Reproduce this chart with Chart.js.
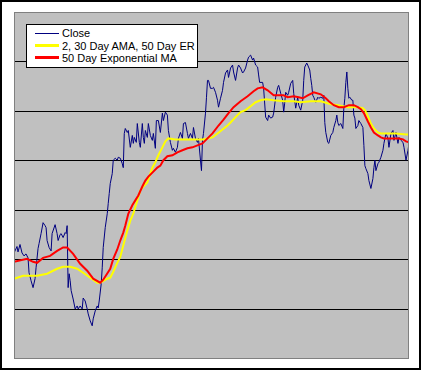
<!DOCTYPE html>
<html lang="en">
<head>
    <meta charset="UTF-8">
    <title>Close vs AMA vs EMA</title>
    <script src="https://cdn.jsdelivr.net/npm/chart.js"></script>
    <style>
        body { margin:0; background:#fff; }
        .wrap { position:relative; width:421px; height:370px; }
        .wrap canvas { position:absolute; left:0; top:0; }
        .frame { position:absolute; left:0; top:0; width:421px; height:370px; box-sizing:border-box; border:2px solid #000; pointer-events:none; }
        .legend { position:absolute; left:26px; top:24px; width:172px; height:44px; box-sizing:border-box;
                  border:1px solid #000; background:#fff; font-family:"Liberation Sans", Arial, sans-serif; font-size:11px; color:#000; }
        .legend .row { position:absolute; left:0; height:12px; line-height:12px; white-space:nowrap; }
        .legend .swatch { position:absolute; left:8px; width:24px; }
        .legend .txt { position:absolute; left:35px; top:0; }
    </style>
</head>
<body>
<div class="wrap">
    <canvas id="myChart" width="421" height="370"></canvas>
    <div class="legend" id="legend"></div>
    <div class="frame"></div>
</div>

<script>
// series names (legend)
const seriesNames = ['Close', '2, 30 Day AMA, 50 Day ER', '50 Day Exponential MA'];

// trading day index for each close reading, and the close
const closeDays = [0,1,3,4,6,8,10,12,14,15,17,19,21,22,24,25,27,29,31,32,33,35,37,38,41,43,44,46,47,49,51,52,53,54,55,56,57,59,61,63,64,66,68,69,71,73,74,76,78,79,81,83,84,85,87,88,89,91,93,94,95,96,98,99,101,103,104,106,108,109,110,111,113,114,116,118,119,120,122,123,125,126,128,129,130,131,133,134,136,138,139,141,142,144,146,148,149,151,153,154,156,158,159,161,163,164,166,168,169,171,173,174,176,178,179,181,183,184,186,187,188,189,191,192,193,194,196,198,199,201,203,204,206,208,209,211,213,214,216,218,219,221,223,224,226,228,229,231,233,234,236,238,239,241,243,244,245,248,249,251,253,254,256,258,259,261,263,264,266,268,269,270,271,273,274,276,278,279,281,283,284,286,288,289,290,292,293,295,296,297,298,299,301,303,304,306,308,309,310,311,313,314,316,318,319,321,322,323,324,326,328,329,330,331,332,333,334,335,337,338,339,340,341,343,344,346,348,349,350,351,353,354,356,358,359,360,361,363,364,366,368,369,371,373,374,376,378,379,381,383,384,386,388,389,391,393,394];
const closePrices = [21.4,21.8,22.7,21.6,23.1,21.4,20.8,21.2,20.4,17.4,15.8,14.4,16.2,18.4,22.3,23.3,25.3,27.5,26.9,26.5,23.9,22.5,21.8,25.3,27.1,25.3,23.9,25.1,25.3,24.5,25.5,25.3,26.9,14.4,17.2,15.8,13.8,12.1,10.1,10.7,10.1,10.7,10.1,12.3,11.7,10.1,9.1,7.7,6.7,8.1,9.7,10.7,10.3,11.7,15.2,18.4,22.5,26.5,29.3,31.4,33.4,35.4,37.4,40.1,40.5,40.1,40.7,40.5,39.4,38.6,45.5,46.5,45.7,46.1,42.7,45.1,43.5,44.7,43.7,47.5,43.7,42.7,47.5,44.7,43.5,46.1,44.7,47.5,45.1,44.1,45.5,42.5,48.1,48.1,45.7,49.6,48.1,49.8,49.2,46.1,43.7,42.1,42.5,41.7,42.7,44.5,45.7,44.5,47.5,47.7,45.5,44.5,45.5,44.5,46.7,44.5,43.7,44.5,40.1,38.0,44.1,45.5,49.6,52.8,56.2,56.2,54.6,54.6,54.8,53.8,52.2,50.8,52.6,54.2,55.8,57.7,58.3,56.8,58.7,59.3,57.9,56.2,58.7,59.3,58.7,57.7,57.9,58.7,60.3,60.9,61.3,60.3,60.7,59.3,58.9,57.3,55.8,55.8,54.6,48.8,48.1,49.2,48.6,48.8,49.6,52.8,54.8,55.2,53.6,52.2,49.8,51.6,53.8,53.2,53.8,55.6,56.2,53.6,50.6,52.8,51.2,50.2,52.2,56.2,58.9,59.7,59.3,58.3,56.6,55.2,53.2,52.8,51.8,52.8,52.6,52.8,52.6,53.2,47.7,45.7,43.7,43.5,45.1,45.7,46.7,48.1,49.2,47.7,47.1,47.5,46.5,50.6,52.6,55.8,57.9,54.6,52.6,52.8,52.2,52.2,49.2,48.6,46.5,47.1,48.1,47.5,46.7,43.1,39.0,38.4,37.4,36.0,34.4,36.4,38.6,40.1,38.0,39.4,39.7,40.7,42.1,43.5,45.5,44.5,42.7,45.5,46.1,44.1,45.7,43.5,44.7,44.1,43.7,42.7,40.1,42.1,43.5];

// adaptive moving average (2, 30 day, 50 day ER)
const amaDays = [0,9,23,33,43,49,56,63,69,76,83,86,93,96,99,103,106,109,113,116,119,123,126,129,133,136,138,141,144,148,151,154,161,169,179,188,193,198,203,208,213,216,221,226,231,236,241,246,251,259,269,279,286,296,306,316,323,333,343,348,350,353,356,359,363,366,381,391,394];
const amaValues = [16.2,16.8,16.8,17.2,18.2,18.6,18.6,18.2,17.4,16.4,15.4,15.4,16.2,16.4,17.6,19.4,20.6,22.9,25.9,27.9,29.3,32.0,34.0,34.8,35.6,37.4,38.6,39.7,41.1,42.7,43.9,44.5,44.3,44.3,44.3,44.3,44.5,44.7,45.5,46.3,47.1,47.7,48.8,49.8,50.2,51.0,51.8,52.2,52.4,52.2,52.0,52.0,51.8,52.0,52.0,51.4,51.2,50.8,50.8,50.6,50.2,49.0,47.5,46.5,45.7,45.5,45.5,45.3,45.3];

// 50 day exponential moving average
const emaDays = [0,13,19,23,29,36,43,49,53,59,66,73,79,86,89,96,99,103,106,109,111,114,118,121,124,128,131,134,138,143,146,149,153,158,163,168,173,178,183,188,193,198,204,209,214,219,226,233,239,243,248,253,259,269,273,279,284,288,293,299,306,311,314,319,324,329,334,339,343,346,349,353,356,359,363,366,369,379,384,388,391,394];
const emaValues = [19.6,20.2,19.6,19.4,20.4,20.8,21.8,22.5,22.5,21.2,19.2,17.8,16.2,15.4,16.0,18.2,20.2,22.1,23.9,25.5,26.9,29.3,31.0,32.0,33.0,34.8,36.0,36.8,37.6,38.6,39.0,40.1,40.9,41.1,41.7,42.1,42.5,42.7,43.1,43.5,44.5,45.5,47.1,48.3,49.6,50.8,52.0,53.0,54.0,54.6,54.8,54.2,53.2,53.2,52.8,53.0,52.8,52.6,53.2,53.8,53.4,52.6,52.0,51.2,50.8,50.8,51.2,51.2,50.8,50.4,49.6,47.9,46.7,45.7,45.1,44.7,44.5,44.5,44.5,44.3,43.9,43.7];

const seriesColors = ['#000080', '#FFFF00', '#FF0000'];
const seriesWidths = [1, 2, 2];

function pts(days, vals) {
    return days.map(function (d, i) { return { x: d, y: vals[i] }; });
}

// gray plot area with a dark gray edge
const plotBack = {
    id: 'plotBack',
    beforeDraw(chart) {
        const a = chart.chartArea, c = chart.ctx;
        c.save();
        c.fillStyle = '#C0C0C0';
        c.fillRect(a.left, a.top, a.right - a.left, a.bottom - a.top);
        c.restore();
    },
    afterDraw(chart) {
        const a = chart.chartArea, c = chart.ctx;
        c.save();
        c.strokeStyle = '#808080';
        c.lineWidth = 1;
        c.strokeRect(a.left + 0.5, a.top + 0.5, a.right - a.left - 1, a.bottom - a.top - 1);
        c.restore();
    }
};

new Chart(document.getElementById('myChart'), {
    type: 'line',
    data: {
        datasets: [
            { label: seriesNames[0], data: pts(closeDays, closePrices), borderColor: seriesColors[0], borderWidth: seriesWidths[0], order: 2 },
            { label: seriesNames[1], data: pts(amaDays, amaValues), borderColor: seriesColors[1], borderWidth: seriesWidths[1], order: 1 },
            { label: seriesNames[2], data: pts(emaDays, emaValues), borderColor: seriesColors[2], borderWidth: seriesWidths[2], order: 0 }
        ]
    },
    options: {
        responsive: false,
        animation: false,
        parsing: false,
        layout: { padding: { left: 14, top: 12, right: 12, bottom: 11 } },
        elements: { point: { radius: 0 }, line: { tension: 0, fill: false } },
        plugins: { legend: { display: false }, tooltip: { enabled: false } },
        scales: {
            x: { type: 'linear', min: 0, max: 394, display: false },
            y: {
                min: 0, max: 70,
                ticks: { display: false, stepSize: 10 },
                border: { display: false },
                grid: {
                    drawTicks: false,
                    lineWidth: 1,
                    color: function (ctx) {
                        return (ctx.tick && (ctx.tick.value === 0 || ctx.tick.value === 70)) ? 'rgba(0,0,0,0)' : '#000';
                    }
                }
            }
        }
    },
    plugins: [plotBack]
});

// legend box drawn over the plot, top left
const legend = document.getElementById('legend');
const rowTops = [2, 14.5, 27];
seriesNames.forEach(function (name, i) {
    const row = document.createElement('div');
    row.className = 'row';
    row.style.top = rowTops[i] + 'px';
    row.style.width = '170px';
    const sw = document.createElement('div');
    sw.className = 'swatch';
    sw.style.height = (seriesWidths[i] + 1) + 'px';
    sw.style.top = (6 - Math.ceil((seriesWidths[i] + 1) / 2)) + 'px';
    sw.style.background = seriesColors[i];
    if (i === 0) { sw.style.height = '1px'; sw.style.top = '6px'; }
    const tx = document.createElement('span');
    tx.className = 'txt';
    tx.textContent = name;
    row.appendChild(sw);
    row.appendChild(tx);
    legend.appendChild(row);
});
</script>
</body>
</html>
